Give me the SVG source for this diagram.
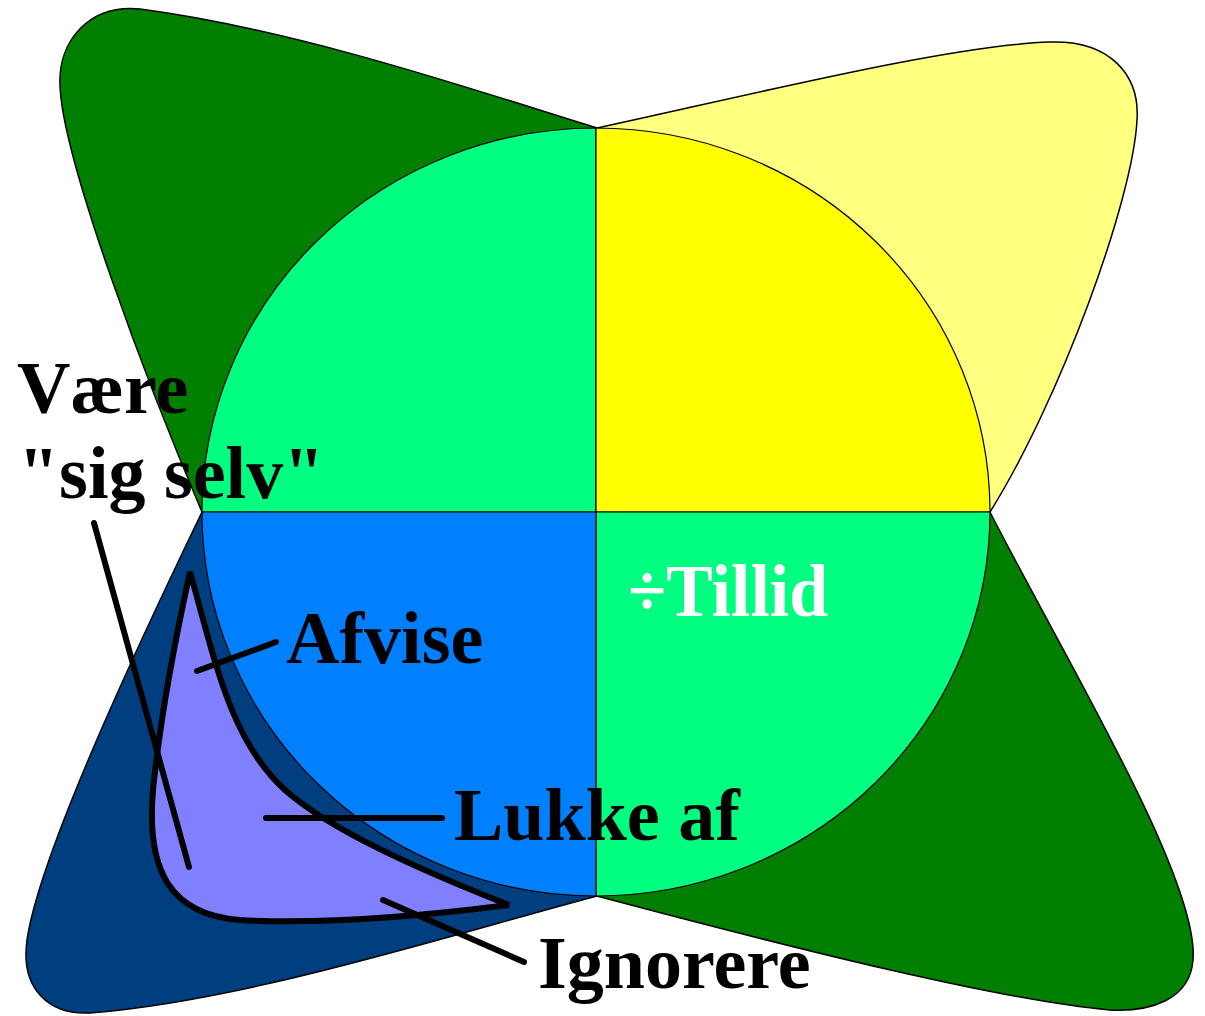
<svg xmlns="http://www.w3.org/2000/svg" width="1205" height="1016" viewBox="0 0 1205 1016">
  <style>
    .petal { stroke: #000; stroke-width: 1.5; stroke-linejoin: round; }
    .quad { stroke: #000; stroke-width: 1.2; }
    .lead { fill: none; stroke: #000; stroke-width: 6; stroke-linecap: round; stroke-linejoin: round; }
    .lbl { font-family: "Liberation Serif", "Times New Roman", serif; font-weight: bold; font-size: 74px; fill: #000; }
  </style>
  <rect width="1205" height="1016" fill="#fff"/>
  <g id="petals">
    <path id="petal-tl" class="petal" fill="#007f00" d="M597,128 C480,92 300,30 140,9 C90,4 58,40 60,85 C62,160 150,390 202,512 Z"/>
    <path id="petal-tr" class="petal" fill="#ffff80" d="M597,128 C750,95 950,45 1050,42 C1110,40 1140,75 1137,120 C1133,200 1060,400 990,512 Z"/>
    <path id="petal-br" class="petal" fill="#007f00" d="M990,512 C1060,650 1200,880 1193,960 C1190,1000 1150,1012 1110,1010 C1000,1000 800,950 597,896 Z"/>
    <path id="petal-bl" class="petal" fill="#003f7f" d="M202,512 C150,620 40,850 27,940 C20,990 50,1015 90,1013 C250,1000 450,935 597,896 Z"/>
  </g>
  <g id="circle">
    <path id="q-tl" class="quad" fill="#00ff80" d="M596,512 L202,512 A394,384 0 0 1 596,128 Z"/>
    <path id="q-tr" class="quad" fill="#ffff00" d="M596,512 L596,128 A394,384 0 0 1 990,512 Z"/>
    <path id="q-br" class="quad" fill="#00ff80" d="M596,512 L990,512 A394,384 0 0 1 596,896 Z"/>
    <path id="q-bl" class="quad" fill="#0080ff" d="M596,512 L596,896 A394,384 0 0 1 202,512 Z"/>
  </g>
  <g id="region">
    <path id="lavender" fill="#8080ff" stroke="#000" stroke-width="6" stroke-linejoin="miter" d="M190,572 C175,640 160,720 153,790 C146,870 170,915 240,920 C330,925 430,915 509,905 C420,870 330,830 285,790 C230,740 215,660 190,572 Z"/>
  </g>
  <g id="connectors">
    <path class="lead" d="M94,523 L189,867"/>
    <path class="lead" d="M197,671 L276,642"/>
    <path class="lead" d="M266,818 L442,818"/>
    <path class="lead" d="M383,900 L524,962"/>
  </g>
  <g id="labels">
    <text id="t-vaere" class="lbl" x="17" y="413">Være</text>
    <text id="t-sigselv" class="lbl" x="18" y="498">"sig selv"</text>
    <text id="t-afvise" class="lbl" x="286" y="663">Afvise</text>
    <text id="t-lukke" class="lbl" x="454" y="840">Lukke af</text>
    <text id="t-ignorere" class="lbl" x="538" y="988">Ignorere</text>
    <text id="t-tillid" class="lbl" x="628" y="616" style="fill:#fff" textLength="200" lengthAdjust="spacingAndGlyphs">÷Tillid</text>
  </g>
</svg>
